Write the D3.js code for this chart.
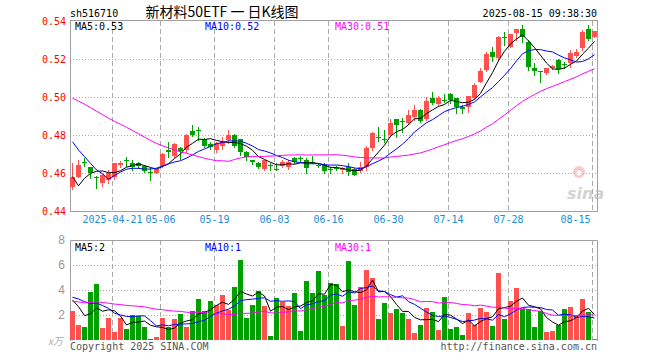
<!DOCTYPE html>
<html>
<head>
<meta charset="utf-8">
<script src="https://cdn.jsdelivr.net/npm/d3@7"></script>
<style>
  body { margin: 0; background: #fff; }
  svg { display: block; }
  text { font-family: "DejaVu Sans Mono", monospace; font-size: 10px; }
</style>
</head>
<body>
<svg id="chart" width="660" height="360"></svg>
<script>
// trading days shown on the chart
const dates = [
  '2025-04-10','2025-04-11','2025-04-14','2025-04-15','2025-04-16','2025-04-17','2025-04-18',
  '2025-04-21','2025-04-22','2025-04-23','2025-04-24','2025-04-25','2025-04-28','2025-04-29','2025-04-30',
  '2025-05-06','2025-05-07','2025-05-08','2025-05-09','2025-05-12','2025-05-13','2025-05-14','2025-05-15','2025-05-16',
  '2025-05-19','2025-05-20','2025-05-21','2025-05-22','2025-05-23','2025-05-26','2025-05-27','2025-05-28','2025-05-29','2025-05-30',
  '2025-06-03','2025-06-04','2025-06-05','2025-06-06','2025-06-09','2025-06-10','2025-06-11','2025-06-12','2025-06-13',
  '2025-06-16','2025-06-17','2025-06-18','2025-06-19','2025-06-20','2025-06-23','2025-06-24','2025-06-25','2025-06-26','2025-06-27',
  '2025-06-30','2025-07-01','2025-07-02','2025-07-03','2025-07-04','2025-07-07','2025-07-08','2025-07-09','2025-07-10','2025-07-11',
  '2025-07-14','2025-07-15','2025-07-16','2025-07-17','2025-07-18','2025-07-21','2025-07-22','2025-07-23','2025-07-24','2025-07-25',
  '2025-07-28','2025-07-29','2025-07-30','2025-07-31','2025-08-01','2025-08-04','2025-08-05','2025-08-06','2025-08-07','2025-08-08',
  '2025-08-11','2025-08-12','2025-08-13','2025-08-14','2025-08-15'
];

const opens = [
  .4530,.4583,.4661,.4633,.4583,.4551,.4565,.4583,.4644,.4670,
  .4653,.4655,.4640,.4609,.4604,.4639,.4723,.4691,.4732,.4723,
  .4824,.4828,.4778,.4754,.4723,.4745,.4775,.4802,.4779,.4714,
  .4670,.4656,.4621,.4644,.4625,.4639,.4635,.4679,.4681,.4670,
  .4660,.4644,.4644,.4623,.4627,.4619,.4635,.4621,.4614,.4632,
  .4735,.4791,.4778,.4802,.4884,.4877,.4863,.4894,.4933,.4884,
  .4997,.4964,.4987,.5017,.4994,.4949,.4950,.4994,.5081,.5143,
  .5239,.5204,.5316,.5265,.5339,.5356,.5291,.5152,.5136,.5129,
  .5152,.5195,.5176,.5178,.5216,.5257,.5356,.5318
];
const highs = [
  .4653,.4670,.4679,.4635,.4585,.4595,.4618,.4655,.4667,.4684,
  .4670,.4660,.4642,.4627,.4623,.4705,.4765,.4760,.4737,.4805,
  .4854,.4845,.4786,.4765,.4766,.4789,.4828,.4807,.4782,.4716,
  .4672,.4661,.4672,.4653,.4652,.4670,.4670,.4688,.4691,.4679,
  .4691,.4656,.4656,.4635,.4639,.4632,.4656,.4628,.4661,.4744,
  .4817,.4845,.4828,.4884,.4886,.4889,.4933,.4959,.4938,.5003,
  .5026,.5006,.5017,.5020,.4997,.4959,.5006,.5076,.5152,.5239,
  .5262,.5321,.5344,.5332,.5358,.5379,.5300,.5178,.5139,.5152,
  .5169,.5199,.5186,.5248,.5251,.5353,.5379,.5350
];
const lows = [
  .4520,.4580,.4639,.4578,.4522,.4535,.4548,.4569,.4635,.4639,
  .4618,.4627,.4609,.4565,.4600,.4635,.4688,.4686,.4676,.4714,
  .4796,.4775,.4739,.4728,.4714,.4728,.4758,.4739,.4697,.4670,
  .4649,.4627,.4618,.4618,.4618,.4635,.4621,.4653,.4667,.4600,
  .4653,.4632,.4600,.4600,.4618,.4600,.4592,.4589,.4609,.4618,
  .4723,.4772,.4766,.4796,.4793,.4819,.4859,.4880,.4871,.4880,
  .4964,.4959,.4976,.4968,.4919,.4919,.4924,.4990,.5078,.5139,
  .5192,.5195,.5274,.5262,.5300,.5291,.5143,.5117,.5081,.5122,
  .5150,.5125,.5152,.5160,.5213,.5248,.5300,.5316
];
const closes = [
  .4583,.4644,.4653,.4602,.4574,.4591,.4600,.4653,.4653,.4665,
  .4635,.4639,.4614,.4604,.4621,.4702,.4712,.4754,.4719,.4802,
  .4802,.4823,.4744,.4741,.4757,.4766,.4802,.4744,.4714,.4688,
  .4660,.4635,.4670,.4639,.4621,.4661,.4661,.4658,.4677,.4627,
  .4656,.4642,.4614,.4619,.4625,.4627,.4609,.4592,.4632,.4735,
  .4814,.4786,.4774,.4866,.4854,.4873,.4907,.4933,.4875,.4980,
  .4972,.4997,.4984,.4985,.4950,.4940,.5006,.5064,.5139,.5227,
  .5209,.5318,.5312,.5332,.5356,.5318,.5160,.5135,.5132,.5152,
  .5164,.5148,.5168,.5230,.5239,.5344,.5305,.5348
];
// volume, in 万
const volumes = [
  2.32,1.20,1.04,3.84,4.48,0.96,1.76,0.64,1.76,0.88,
  2.00,1.92,1.04,0.08,0.24,1.76,1.04,1.68,2.08,1.04,
  2.32,3.28,2.32,3.12,2.80,3.60,2.40,4.24,6.40,1.76,
  2.80,3.92,2.72,0.32,3.36,3.04,2.72,3.76,0.72,4.72,
  3.76,5.52,3.60,4.56,4.48,1.12,6.32,2.80,4.24,5.60,
  4.96,1.68,2.96,2.16,2.48,2.16,1.68,0.56,1.20,2.56,
  2.24,0.80,3.44,0.88,1.04,0.40,2.16,1.20,2.56,2.24,
  1.12,5.36,1.68,3.12,4.16,2.48,2.48,1.04,2.32,0.64,
  0.72,1.20,2.48,2.64,2.00,3.28,2.24,0.08
];
// 29 sessions before the window, estimated from where the MA lines start
const priorCloses = [
  .511,.512,.514,.513,.515,.516,.514,.512,.515,.513,
  .516,.514,.512,.509,.508,.506,.505,.503,.504,.506,
  .5074,.5003,.4952,.4924,.4792,.4884,.4458,.4472,.4518
];
const priorVolumes = [
  2.6,3.4,2.8,3.1,2.5,3.3,2.9,2.7,3.2,2.8,
  3.0,2.6,3.1,2.9,2.7,3.3,2.8,2.9,3.0,3.0,
  2.6,3.2,5.2,4.2,3.0,3.9,4.6,3.2,2.0
];

const tickDates = ['2025-04-21','2025-05-06','2025-05-19','2025-06-03','2025-06-16','2025-06-30','2025-07-14','2025-07-28','2025-08-15'];
const priceTicks = [0.44, 0.46, 0.48, 0.50, 0.52, 0.54];
const volumeTicks = [2, 4, 6, 8];
const maPeriods = [5, 10, 30];
const maColors = ['#000000', '#0000ff', '#ff00ff'];

const RED = '#ff5050', GREEN = '#00a000', GRID = '#aaaaaa', FRAME = '#a0a0a0';

const svg = d3.select('#chart');
const left = 70, right = 597;
const mainTop = 21, mainBottom = 211.5;
const volTop = 240, volBottom = 340;

const x = d3.scaleBand().domain(dates).range([69.5, 597.5]).paddingInner(1 / 6).paddingOuter(1 / 12);
const y = d3.scaleLinear().domain([0.44, 0.54]).range([mainBottom, mainTop]);
const yv = d3.scaleLinear().domain([0, 8]).range([volBottom, volTop]);
const cx = d => x(d) + x.bandwidth() / 2;

const rows = dates.map((d, i) => ({
  date: d, open: opens[i], high: highs[i], low: lows[i], close: closes[i], volume: volumes[i],
  up: closes[i] >= opens[i]
}));

function movingAverage(prior, values, n) {
  const all = prior.concat(values);
  return values.map((_, i) => {
    const end = prior.length + i + 1;
    return d3.mean(all.slice(end - n, end));
  });
}
const priceMA = maPeriods.map(n => movingAverage(priorCloses, closes, n));
const volMA = maPeriods.map(n => movingAverage(priorVolumes, volumes, n));

// ---------- grids ----------
const grid = svg.append('g');
grid.selectAll('.hgrid')
  .data(priceTicks.slice(1, -1))
  .join('line')
  .attr('x1', left).attr('x2', right)
  .attr('y1', d => Math.round(y(d)) + 0.5).attr('y2', d => Math.round(y(d)) + 0.5)
  .attr('stroke', GRID).attr('stroke-dasharray', '1,2');
grid.selectAll('.vhgrid')
  .data(volumeTicks.slice(0, -1))
  .join('line')
  .attr('x1', left).attr('x2', right)
  .attr('y1', d => Math.round(yv(d)) + 0.5).attr('y2', d => Math.round(yv(d)) + 0.5)
  .attr('stroke', GRID).attr('stroke-dasharray', '1,2');
tickDates.forEach(d => {
  [[mainTop, mainBottom], [volTop, volBottom]].forEach(([a, b]) => {
    grid.append('line')
      .attr('x1', x(d) + 0.5).attr('x2', x(d) + 0.5)
      .attr('y1', a).attr('y2', b)
      .attr('stroke', GRID).attr('stroke-dasharray', '5,3');
  });
});

// ---------- frames ----------
svg.append('rect')
  .attr('x', left + 0.5).attr('y', 20.5)
  .attr('width', right - left).attr('height', 191)
  .attr('fill', 'none').attr('stroke', FRAME);
svg.append('path')
  .attr('d', `M${left + 0.5},${volBottom + 1}V${volTop + 0.5}H${right + 0.5}V${volBottom + 1}`)
  .attr('fill', 'none').attr('stroke', FRAME);

// ---------- candles ----------
const candles = svg.append('g');
candles.selectAll('line')
  .data(rows)
  .join('line')
  .attr('x1', d => cx(d.date)).attr('x2', d => cx(d.date))
  .attr('y1', d => Math.round(y(d.high))).attr('y2', d => Math.round(y(d.low)) + 1)
  .attr('stroke', d => d.up ? RED : GREEN);
candles.selectAll('rect')
  .data(rows)
  .join('rect')
  .attr('x', d => x(d.date))
  .attr('width', x.bandwidth())
  .attr('y', d => Math.round(y(Math.max(d.open, d.close))))
  .attr('height', d => Math.max(1, Math.round(y(Math.min(d.open, d.close))) - Math.round(y(Math.max(d.open, d.close)))))
  .attr('fill', d => d.up ? RED : GREEN);

// ---------- volume bars ----------
svg.append('g').selectAll('rect')
  .data(rows)
  .join('rect')
  .attr('x', d => x(d.date))
  .attr('width', x.bandwidth())
  .attr('y', d => Math.round(yv(d.volume)))
  .attr('height', d => volBottom - Math.round(yv(d.volume)))
  .attr('fill', d => d.up ? RED : GREEN);

// ---------- moving average lines ----------
const maLayer = svg.append('g').attr('fill', 'none').attr('stroke-width', 1);
priceMA.forEach((vals, j) => {
  maLayer.append('path')
    .datum(vals)
    .attr('stroke', maColors[j])
    .attr('d', d3.line().x((v, i) => cx(dates[i])).y(v => y(v)));
});
volMA.forEach((vals, j) => {
  maLayer.append('path')
    .datum(vals)
    .attr('stroke', maColors[j])
    .attr('d', d3.line().x((v, i) => cx(dates[i])).y(v => yv(v)));
});

// ---------- axes ----------
const yAxis = svg.append('g')
  .attr('transform', `translate(${left},0)`)
  .call(d3.axisLeft(y).tickValues(priceTicks).tickFormat(d3.format('.2f')).tickSize(0).tickPadding(4));
yAxis.select('.domain').remove();
yAxis.selectAll('text').attr('fill', '#ff0000').style('font-family', '"DejaVu Sans Mono", monospace').style('font-size', '10px');

const vAxis = svg.append('g')
  .attr('transform', `translate(${left},0)`)
  .call(d3.axisLeft(yv).tickValues(volumeTicks).tickSize(0).tickPadding(5));
vAxis.select('.domain').remove();
vAxis.selectAll('text').attr('fill', '#999').style('font-family', '"Liberation Sans", Arial, sans-serif').style('font-size', '12px');

const xAxis = svg.append('g')
  .attr('transform', `translate(0,${mainBottom})`)
  .call(d3.axisBottom(x).tickValues(tickDates).tickSize(0).tickPadding(4)
    .tickFormat((d, i) => i === 0 ? d : d.slice(5)));
xAxis.select('.domain').remove();
xAxis.selectAll('text').attr('fill', '#1a8cdc').attr('x', 0.5 - x.bandwidth() / 2)
  .style('font-family', '"DejaVu Sans Mono", monospace').style('font-size', '10px');
// the last date label is kept inside the frame
xAxis.selectAll('text').filter(d => d === tickDates[tickDates.length - 1])
  .attr('text-anchor', 'end').attr('x', -4);

svg.append('text')
  .attr('x', 63).attr('y', 345).attr('text-anchor', 'end')
  .attr('fill', '#aaa').style('font-family', '"Noto Sans CJK SC", sans-serif').style('font-size', '10px')
  .style('font-style', 'italic')
  .text('x万');

// ---------- legends ----------
const last = a => a[a.length - 1];
const legendX = [75, 205, 335];
maPeriods.forEach((n, j) => {
  svg.append('text')
    .attr('x', legendX[j]).attr('y', 30)
    .attr('fill', maColors[j])
    .text(`MA${n}:${last(priceMA[j]).toFixed(2)}`);
  svg.append('text')
    .attr('x', legendX[j]).attr('y', 251)
    .attr('fill', maColors[j])
    .text(`MA${n}:${Math.floor(last(volMA[j]))}`);
});

// ---------- titles ----------
svg.append('text').attr('x', 70).attr('y', 17).attr('fill', '#000').text('sh516710');
svg.append('text').attr('x', 597).attr('y', 17).attr('text-anchor', 'end').attr('fill', '#000')
  .text('2025-08-15 09:38:30');
svg.append('text').attr('x', 222).attr('y', 17).attr('text-anchor', 'middle').attr('fill', '#000')
  .style('font-family', '"Noto Sans CJK SC", sans-serif').style('font-size', '14px')
  .text('新材料50ETF 一 日K线图');

svg.append('text').attr('x', 70).attr('y', 350).attr('fill', '#555').text('Copyright 2025 SINA.COM');
svg.append('text').attr('x', 597).attr('y', 350).attr('text-anchor', 'end').attr('fill', '#555')
  .text('http://finance.sina.com.cn');

// sina watermark
const mark = svg.append('g').attr('opacity', 0.55);
mark.append('circle').attr('cx', 579).attr('cy', 172).attr('r', 6).attr('fill', '#f0a0a0');
mark.append('circle').attr('cx', 579).attr('cy', 173).attr('r', 2.5).attr('fill', '#fff');
mark.append('text').attr('x', 567).attr('y', 199)
  .attr('fill', '#b0b0b0')
  .style('font-family', '"DejaVu Sans", sans-serif').style('font-size', '16px')
  .style('font-weight', 'bold').style('font-style', 'italic')
  .text('sina');
</script>
</body>
</html>
